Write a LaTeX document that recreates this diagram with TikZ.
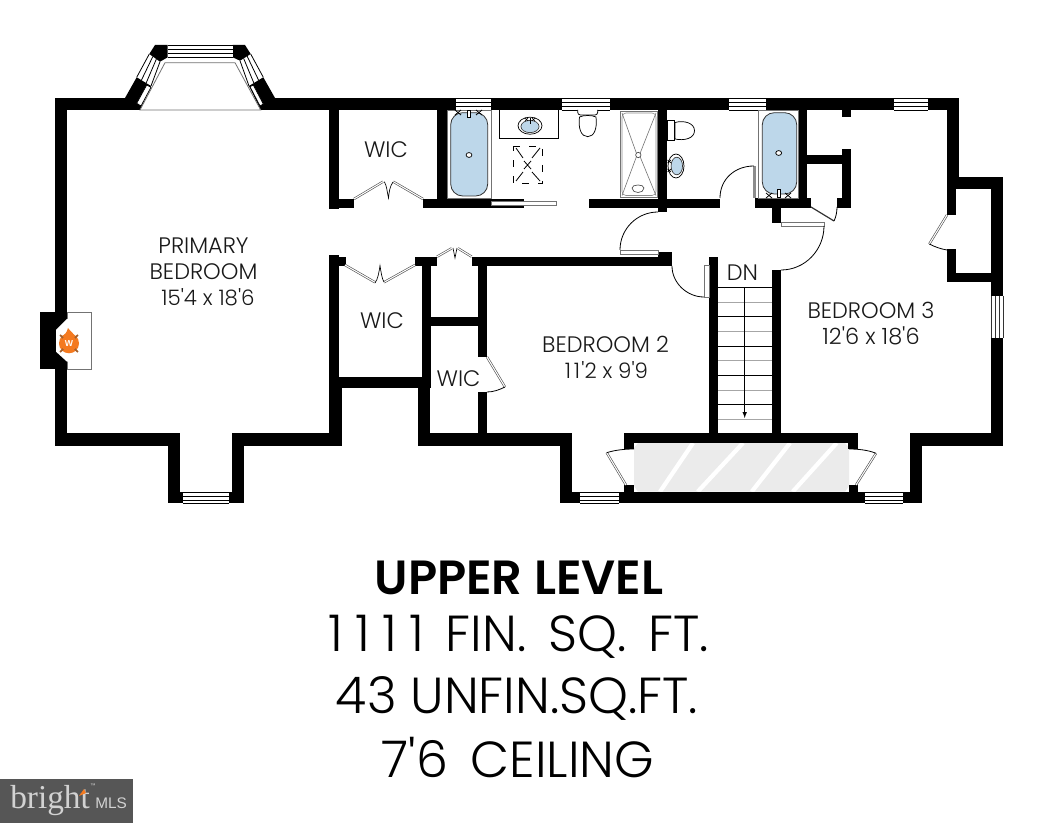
\documentclass[tikz,border=0pt]{standalone}
\usepackage{fontspec}
\usetikzlibrary{calc}
\newfontfamily\planfont{Poppins Light}
\newfontfamily\titlefont{Poppins SemiBold}
\newfontfamily\logofont{Liberation Serif}
\newfontfamily\mlsfont{Liberation Sans}
\definecolor{tubblue}{HTML}{BDD7EA}
\definecolor{closetgray}{HTML}{EBEBEB}
\definecolor{fireorange}{HTML}{F47A20}
\definecolor{stickbrown}{HTML}{A5602A}
\definecolor{logogray}{HTML}{565656}
\definecolor{logotext}{HTML}{D2D2D2}
\begin{document}
\begin{tikzpicture}[x=0.75pt,y=-0.75pt,
wallfill/.style={fill=black},
doorleaf/.style={draw=black!70,double=white,double distance=0.8pt,line width=0.45pt},
doorswing/.style={draw=black,line width=0.6pt},
fixture/.style={draw=black,line width=0.55pt,fill=white},
tub/.style={draw=black!80,line width=0.6pt,fill=tubblue,rounded corners=9pt},
thinline/.style={draw=black!55,line width=0.6pt},
roomlabel/.style={font=\planfont\fontsize{16.8}{16.8}\selectfont,text=black!90,inner sep=0pt},
sizelabel/.style={font=\planfont\fontsize{16}{16}\selectfont,text=black!90,inner sep=0pt},
titleline/.style={font=\planfont\fontsize{38}{38}\selectfont,text=black,inner sep=0pt}
]
\useasboundingbox (0,0) rectangle (1046,823);
\fill[white] (0,0) rectangle (1046,823);

\fill[closetgray] (638,443) -- (845,443) -- (849,448) -- (849,486) -- (845,491.7) -- (638,491.7) -- (634,486) -- (634,448) -- cycle;
\foreach \xa/\xb in {660/693,697.7/743,751.7/790,792.7/836.7}
  \draw[white,line width=3.2pt] (\xa,491.7) -- (\xb,443);

\foreach \xa/\ya/\xb/\yb in {
  55/98/959/110, 55/98/67/446, 55/433/180/446, 168/433/180/503, 232/433/244/503,
  168/491.7/183/503, 229/491.7/244/503, 232/433/342/446, 329/377/342/446,
  329/255/339/377, 329/257/346/266, 329/98/339/209, 329/199/354/208,
  329/377/430/388, 415/257/437/266, 421.7/257/431/388, 418/377/430/446,
  418/433/572/446, 560/433/572/503, 560/491.7/580/503, 619/491.7/865/503,
  903/491.7/922/503, 910/433/922/503, 910/433/1003/446, 991/338/1003/446,
  624/433/858/443, 624/433/634/449, 848/433/858/449, 624/485/634/503, 849/485/858/503,
  709/257/718/433, 772/270/781/433, 430/316.7/478/325.7, 478/257/487/357,
  478/392/487/433, 472/257/672/266, 658/252/672/266, 423/199/491/208,
  491/199/524/201, 491/205.7/524/208, 589/199/720/208, 658/98/667/212,
  437/98/447/199, 755/198/811/208, 771.7/198/780.7/223, 798/98/807/198,
  807/155/850/164, 841.7/149/850.7/208, 837/198/850.7/208, 841.7/110/850.7/117,
  947/98/959/177, 947/177/956/215, 947/177/1003/189, 991/177/1003/296, 947/249/956/282, 947/272.7/1003/282}
  \fill[wallfill] (\xa,\ya) rectangle (\xb,\yb);

\fill[wallfill] (155,45) -- (167.7,45) -- (167.7,57.3) -- (160,61.7) -- (149.3,54) -- cycle;
\fill[wallfill] (232.7,45) -- (245,45) -- (250.7,54) -- (240,60.7) -- (232.7,57.3) -- cycle;
\fill[white] (140,98) rectangle (260.7,111);
\fill[wallfill] (125,98) -- (136.7,77.3) -- (151,86) -- (140,110) -- (125,110) -- cycle;
\fill[wallfill] (275,98) -- (263.3,77.3) -- (249,86) -- (260.7,110) -- (275,110) -- cycle;
\draw[fixture] (136.7,103.3) -- (146.7,85) -- (151,87.3) -- (141,106) -- cycle;
\draw[fixture] (250,86.7) -- (253.3,85) -- (263.3,104) -- (260,106) -- cycle;
\foreach \f in {0,0.33,0.66,1}{
  \draw[black,line width=0.6pt] ($(149.3,54)!\f!(160,61.7)$) -- ($(136.7,77.3)!\f!(151,86)$);
  \draw[black,line width=0.6pt] ($(250.7,54)!\f!(240,60.7)$) -- ($(263.3,77.3)!\f!(249,86)$);
}
\draw[thinline] (140,110) -- (165,62.7) -- (235,62.7) -- (260.7,110) -- cycle;

\foreach \xa/\xb/\ya in {455.7/491/98, 561.7/610/98, 729/765.7/98, 894/927.7/98,
  167.7/232.7/45, 183/229/491.7, 580/619/491.7, 865/903/491.7}{
  \fill[white] (\xa,\ya) rectangle (\xb,\ya+12);
  \foreach \d in {0.8,4.6,8.2,12}
    \draw[black,line width=0.55pt] (\xa,\ya+\d) -- (\xb,\ya+\d);
}
\fill[white] (991,296) rectangle (1003,338);
\foreach \d in {991,995,999,1003}
  \draw[black!80,line width=0.55pt] (\d,296) -- (\d,338);

\draw[thinline,fill=white] (491,201) rectangle (556.7,205.7);

\draw[thinline] (447.3,110) rectangle (491.7,198);
\draw[tub] (450.7,112.7) rectangle (487.7,196);
\draw[fixture] (469,155) ellipse (2.2pt and 1.8pt);
\foreach \x in {458,479}{
  \draw[black,line width=0.6pt] (\x-3,110) -- (\x+3,115);
  \draw[black,line width=0.6pt] (\x+3,110) -- (\x-3,115);
}
\draw[fixture] (467.5,110) rectangle (470.5,117);

\draw[thinline] (758.3,110) rectangle (798,198);
\draw[tub] (762.3,112.7) rectangle (796.7,194);
\draw[fixture] (778.7,153) ellipse (2.2pt and 1.8pt);
\foreach \x in {769,788}{
  \draw[black,line width=0.6pt] (\x-3,193) -- (\x+3,198);
  \draw[black,line width=0.6pt] (\x+3,193) -- (\x-3,198);
}
\draw[fixture] (777,189) rectangle (780,197);

\draw[black,line width=0.6pt] (499.3,110) -- (499.3,138.7) -- (558,138.7) -- (558,110);
\draw[fixture] (530,125.7) ellipse (9pt and 6.4pt);
\draw[black!80,line width=0.5pt,fill=tubblue] (530,126.5) ellipse (6.8pt and 4.6pt);
\draw[black,line width=0.5pt] (525,118) -- (528,121) (528,118) -- (525,121) (532,118) -- (535,121) (535,118) -- (532,121);
\draw[black,line width=0.5pt] (530,118) -- (530,124);

\draw[black,line width=0.6pt,dash pattern=on 5pt off 7pt] (513.3,146) -- (542.3,146) -- (542.3,183.3) -- (513.3,183.3) -- cycle;
\draw[black,line width=0.6pt] (516,148) -- (523,158) (540,148) -- (532,158) (516,181) -- (523,172) (540,181) -- (532,172);
\draw[black,line width=0.6pt] (524,161) -- (531,169) (531,161) -- (524,169);

\draw[fixture,rounded corners=2pt] (577.7,110) -- (577.7,115) -- (597.7,115) -- (597.7,110);
\draw[fixture] (579.5,117) .. controls (578,128) and (581,136.7) .. (587.7,136.7) .. controls (594.4,136.7) and (597.4,128) .. (596,117) .. controls (592,115) and (583.5,115) .. (579.5,117);

\draw[thinline] (620,111.7) rectangle (657.7,197.3);
\draw[black!45,line width=0.45pt,rounded corners=3pt] (622,113) rectangle (656,195.5);
\draw[black!55,line width=0.45pt] (622,113) -- (636.5,153.5) (656,113) -- (640,153.5) (622,195.5) -- (636.5,156.5) (656,195.5) -- (640,156.5);
\draw[black!70,line width=0.5pt] (638.3,155) ellipse (2pt and 2pt);
\draw[black!70,line width=0.5pt] (632,188) .. controls (632,194) and (644,194) .. (644,188) .. controls (644,184) and (632,184) .. (632,188);

\draw[fixture] (667,120.7) rectangle (674,140.7);
\draw[fixture] (675,122.5) .. controls (684,120) and (694.5,123) .. (694.5,130.7) .. controls (694.5,138.5) and (684,141) .. (675,139) -- cycle;

\draw[fixture] (676,166) ellipse (6pt and 9pt);
\draw[black!80,line width=0.5pt,fill=tubblue] (676.8,166) ellipse (4.3pt and 6.6pt);
\draw[black,line width=0.5pt] (667.5,160) -- (671,163) (671,160) -- (667.5,163) (667.5,169) -- (671,172) (671,169) -- (667.5,172);

\fill[wallfill] (40,312.3) rectangle (67,369.3);
\draw[thinline,fill=white] (67,312.3) rectangle (91,369.3);
\fill[wallfill] (55,312.3) rectangle (67,369.3);
\fill[white] (67,319) -- (56,330) -- (56,351.7) -- (67,361.7) -- (80,361.7) -- (80,319) -- cycle;
\fill[fireorange] (69,343.3) circle (7.5pt);
\fill[fireorange] (62,336) .. controls (65,335) and (67,332) .. (68,328) .. controls (71,332) and (75,335) .. (77,338) -- cycle;
\draw[stickbrown,line width=1.3pt] (60,335) -- (78,352) (78,335) -- (60,352);
\fill[fireorange] (69,343.3) circle (6pt);
\node[inner sep=0pt,text=white,font=\mlsfont\fontsize{6.5}{6.5}\selectfont\bfseries] (firew) at (69,344) {W};

\foreach \y/\c in {287.7/black,302.3/black!35,316.7/black,331.7/black!35,346/black,360.7/black!35,375.7/black,390/black!35,404.3/black,419/black!35}
  \draw[\c,line width=0.55pt] (718,\y) -- (772,\y);
\draw[black,line width=0.55pt,-latex] (744.7,287.7) -- (744.7,418);

\draw[doorleaf] (354,199) -- (383,181.7);
\draw[doorleaf] (393.3,181.7) -- (423,199);
\draw[black,line width=0.5pt] (384.3,181.7) .. controls (387,186) and (387,192) .. (388.5,198) .. controls (389,192) and (390,186) .. (393,182);
\draw[doorleaf] (345,265) -- (375,282.3);
\draw[doorleaf] (384,282.3) -- (415,265);
\draw[black,line width=0.5pt] (375,283) .. controls (378,279) and (379,272) .. (380,265.7) .. controls (381,272) and (382,279) .. (384,282);
\draw[doorleaf] (437,256.7) -- (451.7,248.3);
\draw[doorleaf] (458,248.3) -- (471.7,256.7);
\draw[black,line width=0.5pt] (453,248) -- (455,258) -- (457,248);
\draw[doorleaf] (487,357) -- (505,387);
\draw[doorswing] (505,387) .. controls (499,390) and (493,392) .. (487,392);
\draw[thinline,fill=white] (620,250) rectangle (658,254);
\draw[doorswing] (620,250) .. controls (620,229) and (637,212) .. (658,212);
\draw[thinline,fill=white] (704,265) rectangle (709,297);
\draw[doorswing] (672,266) .. controls (672,283) and (687,297) .. (704,297);
\fill[black!45] (752.7,166) rectangle (756,198);
\draw[doorswing] (720,198) .. controls (720,179) and (735,166) .. (754,166);
\draw[thinline,fill=white] (781,222.5) rectangle (824,226);
\draw[doorswing] (824,226) .. controls (824,250) and (805,270) .. (781,270);
\draw[black!80,line width=0.9pt] (811,207) -- (834,221);
\draw[doorswing] (834,221) .. controls (836,217) and (837,212) .. (837,207);
\draw[doorleaf] (947,215) -- (929.3,244);
\draw[doorswing] (929.3,244) .. controls (935,247) and (941,249) .. (947,250);
\draw[doorleaf] (626,485) -- (606.7,452.7);
\draw[doorswing] (606.7,452.7) .. controls (615,450) and (625,449) .. (634,449);
\draw[doorleaf] (856,485) -- (876,453.3);
\draw[doorswing] (876,453.3) .. controls (868,450) and (858,449) .. (849,449);

\node[roomlabel] (primary) at (203.5,245.5) {PRIMARY};
\node[roomlabel] (primarybed) at (203.5,272) {BEDROOM};
\node[sizelabel] (primarysize) at (208,297) {15'4 x 18'6};
\node[roomlabel] (wica) at (386,149.5) {WIC};
\node[roomlabel] (wicb) at (382,320.5) {WIC};
\node[roomlabel] (wicc) at (458.5,378.5) {WIC};
\node[roomlabel] (bedtwo) at (605.5,344.5) {BEDROOM 2};
\node[sizelabel] (bedtwosize) at (606.5,370) {1\kern2pt 1\kern1pt'2 x 9'9};
\node[roomlabel] (bedthree) at (871,310) {BEDROOM 3};
\node[roomlabel] (bedthreesize) at (871,335.5) {12'6 x 18'6};
\node[roomlabel] (stairdn) at (742.5,273) {DN};

\node[inner sep=0pt,text=black,font=\titlefont\fontsize{36}{36}\selectfont] (level) at (519,578) {UPPER LEVEL};
\node[titleline] (finished) at (519,637) {1\kern9pt 1\kern9pt 1\kern9pt 1\kern6pt\ FIN.\kern6pt\ SQ.\kern6pt\ FT.};
\node[titleline] (unfinished) at (517,698) {43 UNFIN.SQ.FT.};
\node[titleline] (ceiling) at (518,758) {7'6\kern6.5pt\ CEILING};

\fill[logogray] (0,779) rectangle (133,823);
\node[inner sep=0pt,anchor=base west,text=logotext,font=\logofont\fontsize{25}{25}\selectfont] (logo) at (10,808) {bright};
\node[inner sep=0pt,anchor=base west,text=logotext,font=\mlsfont\fontsize{11.5}{11.5}\selectfont] (logomls) at (95,808) {MLS};
\node[inner sep=0pt,text=logotext,font=\mlsfont\fontsize{4}{4}\selectfont] (logotm) at (93,786) {™};
\fill[fireorange] (79,796) -- (84,789) -- (86,793) -- cycle;
\end{tikzpicture}
\end{document}
